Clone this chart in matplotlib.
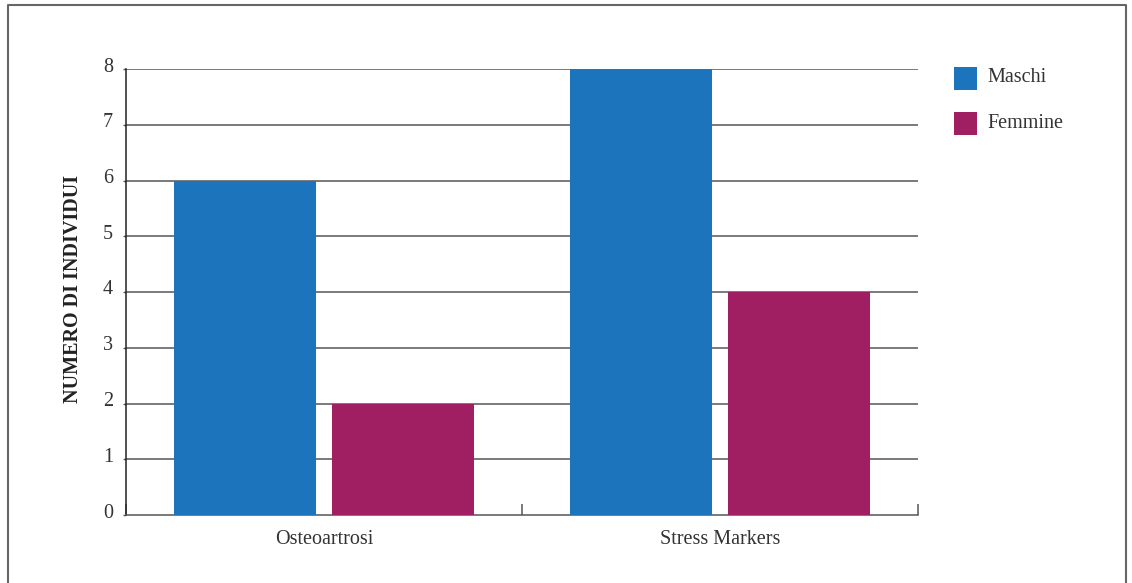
import matplotlib
matplotlib.use("Agg")
import matplotlib.pyplot as plt
from matplotlib.patches import Rectangle
from matplotlib.transforms import offset_copy
import numpy as np

categories = ["Osteoartrosi", "Stress Markers"]
series_names = ["Maschi", "Femmine"]
maschi = [6, 8]
femmine = [2, 4]
y_ticks = [0, 1, 2, 3, 4, 5, 6, 7, 8]
y_label = "NUMERO DI INDIVIDUI"

colors = ["#1c75bc", "#a01f62"]
text_color = "#333333"
grid_color = "#555555"

W, H = 1132, 583
plt.rcParams["font.family"] = ["Liberation Serif", "DejaVu Serif"]

fig = plt.figure(figsize=(W / 100, H / 100), dpi=100)
fig.patch.set_facecolor("white")


def px(x, y):
    return x / W, 1 - y / H


# plot area
left, top = px(126, 69)
right, bottom = px(918, 515)
ax = fig.add_axes([left, bottom, right - left, top - bottom])

x = np.arange(len(categories))
bw = 0.361
gap = 0.038
series = [maschi, femmine]
offsets = [-(bw + gap) / 2, (bw + gap) / 2]
for vals, off, c, name in zip(series, offsets, colors, series_names):
    ax.bar(x + off, vals, width=bw, color=c, label=name, zorder=3)

ax.set_xlim(-0.5, len(categories) - 0.5)
ax.set_ylim(0, 8)

# horizontal grid lines
for v in y_ticks[1:]:
    ax.axhline(v, color=grid_color, lw=1.1, zorder=1)

for s in ["top", "right"]:
    ax.spines[s].set_visible(False)
ax.spines["left"].set_color("#222222")
ax.spines["left"].set_linewidth(1.1)
ax.spines["bottom"].set_color(grid_color)
ax.spines["bottom"].set_linewidth(1.1)

# y tick labels
ax.set_yticks(y_ticks)
ax.set_yticklabels([])
ax.tick_params(axis="y", length=2, width=1, color=grid_color)
lab_tr = offset_copy(ax.get_yaxis_transform(), fig=fig, x=-13, y=2, units="dots")
for v in y_ticks:
    ax.text(0, v, str(v), transform=lab_tr, ha="right", va="center",
            fontsize=14.5, color=text_color)

# x axis: category labels, boundary ticks pointing inward
ax.set_xticks(x)
ax.set_xticklabels(categories, fontsize=14.5, color=text_color)
ax.tick_params(axis="x", which="major", length=0, pad=11)
ax.set_xticks(np.arange(len(categories) + 1) - 0.5, minor=True)
ax.tick_params(axis="x", which="minor", direction="in", length=8, width=1.1,
               color=grid_color)

fig.text(73 / W, 1 - 289 / H, y_label, rotation=90, ha="center", va="center",
         fontsize=14.5, fontweight="bold", color="#222222")

# legend
for i, (name, c) in enumerate(zip(series_names, colors)):
    y0 = 67 + i * 45
    fx, fy = px(954, y0 + 23)
    fig.add_artist(Rectangle((fx, fy), 23 / W, 23 / H, transform=fig.transFigure,
                             facecolor=c, edgecolor="none"))
    tx, ty = px(987, y0 + 11)
    fig.text(tx, ty, name, ha="left", va="center", fontsize=14.5, color=text_color)

# frame around the figure
bx, by = px(8, 5)
fig.add_artist(plt.Line2D([bx, bx, 1126 / W, 1126 / W], [0, by, by, 0],
                          transform=fig.transFigure, color="#666666", lw=1.5))

fig.savefig("out.png", dpi=100, facecolor="white")
